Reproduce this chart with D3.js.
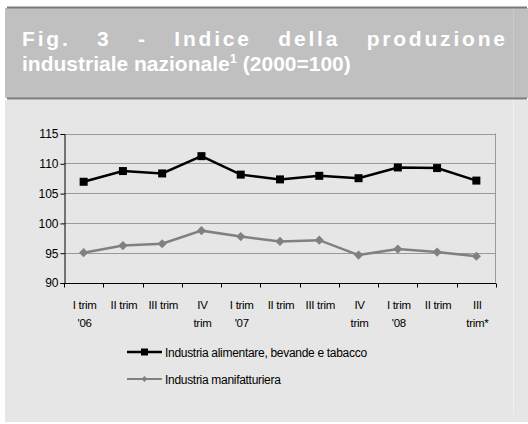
<!DOCTYPE html>
<html>
<head>
<meta charset="utf-8">
<script src="https://cdn.jsdelivr.net/npm/d3@7"></script>
<style>
  body { margin: 0; background: #fff; }
  svg { display: block; font-family: "Liberation Sans", Arial, sans-serif; }
</style>
</head>
<body>
<svg id="chart" width="528" height="424"></svg>
<script>
// data
const categories = [
    ["I trim", "'06"], ["II trim"], ["III trim"], ["IV", "trim"],
    ["I trim", "'07"], ["II trim"], ["III trim"], ["IV", "trim"],
    ["I trim", "'08"], ["II trim"], ["III", "trim*"]
];
const alimentare = [106.9, 108.7, 108.3, 111.2, 108.1, 107.3, 107.9, 107.5, 109.3, 109.2, 107.1];
const manifatturiera = [95.0, 96.2, 96.5, 98.7, 97.7, 96.9, 97.1, 94.6, 95.6, 95.1, 94.4];
const yTicks = [90, 95, 100, 105, 110, 115];
const seriesNames = ["Industria alimentare, bevande e tabacco", "Industria manifatturiera"];

const svg = d3.select("#chart");

// frame: title band + light panel
svg.append("rect").attr("x", 5).attr("y", 8).attr("width", 523).attr("height", 90).attr("fill", "#c0c0c0");
svg.append("rect").attr("x", 5).attr("y", 100).attr("width", 523).attr("height", 322).attr("fill", "#e6e6e6");
svg.append("line").attr("x1", 513.5).attr("x2", 513.5).attr("y1", 8).attr("y2", 98).attr("stroke", "#cacaca");
svg.append("line").attr("x1", 513.5).attr("x2", 513.5).attr("y1", 100).attr("y2", 415).attr("stroke", "#f0f0f0");
svg.append("rect").attr("x", 7).attr("y", 6.5).attr("width", 520).attr("height", 2).attr("fill", "#7a7a7a");
svg.append("rect").attr("x", 7).attr("y", 97.5).attr("width", 520).attr("height", 2).attr("fill", "#7a7a7a");

// title, first line justified with letter spacing
const t1 = ["Fig.", "3", "-", "Indice", "della", "produzione"];
const tg = svg.append("g").attr("fill", "#fff").attr("font-weight", "bold").attr("font-size", 21);
const words = tg.selectAll("text.w").data(t1).enter().append("text")
    .attr("class", "w").attr("y", 46).attr("letter-spacing", 2.8).text(d => d);
const widths = [];
words.each(function() { widths.push(this.getComputedTextLength() - 2.8); });
const gap = (505 - 22 - d3.sum(widths)) / (t1.length - 1);
let cx = 22;
words.attr("x", (d, i) => { const v = cx; cx += widths[i] + gap; return v; });
const t2 = tg.append("text").attr("x", 22).attr("y", 71);
t2.append("tspan").text("industriale nazionale");
t2.append("tspan").attr("font-size", 13).attr("dy", -8).text("1");
t2.append("tspan").attr("dy", 8).text(" (2000=100)");

// plot
const margin = { left: 64, top: 133.5, right: 496, bottom: 282.5 };
const x = d3.scaleBand().domain(d3.range(categories.length)).range([margin.left, margin.right]);
const y = d3.scaleLinear().domain([90, 115]).range([margin.bottom, margin.top]);

svg.append("g").selectAll("line").data(yTicks.slice(1)).enter().append("line")
    .attr("x1", margin.left).attr("x2", margin.right)
    .attr("y1", d => Math.round(y(d)) + 0.5).attr("y2", d => Math.round(y(d)) + 0.5)
    .attr("stroke", "#999");
svg.append("line").attr("x1", margin.right - 0.5).attr("x2", margin.right - 0.5)
    .attr("y1", margin.top).attr("y2", margin.bottom).attr("stroke", "#999");

const yAxis = svg.append("g").attr("transform", "translate(" + (margin.left + 0.5) + ",0.5)")
    .call(d3.axisLeft(y).tickValues(yTicks).tickSize(4).tickPadding(2));
yAxis.select(".domain").attr("stroke", "#000");
yAxis.selectAll("text").attr("font-size", 12).attr("fill", "#000").attr("font-family", "Liberation Sans, Arial");

const xAxis = svg.append("g").attr("transform", "translate(0," + (Math.round(margin.bottom) + 0.5) + ")");
xAxis.append("line").attr("x1", margin.left).attr("x2", margin.right).attr("stroke", "#000");
xAxis.selectAll("line.tk").data(d3.range(categories.length + 1)).enter().append("line")
    .attr("class", "tk")
    .attr("x1", i => Math.round(margin.left + i * x.step()) + 0.5)
    .attr("x2", i => Math.round(margin.left + i * x.step()) + 0.5)
    .attr("y1", 0).attr("y2", 4).attr("stroke", "#000");
const xl = xAxis.selectAll("text").data(categories).enter().append("text")
    .attr("text-anchor", "middle").attr("font-size", 11.5).attr("letter-spacing", -0.3)
    .attr("fill", "#000")
    .attr("x", (d, i) => x(i) + x.bandwidth() / 2 + 1);
xl.selectAll("tspan").data(d => d).enter().append("tspan")
    .attr("x", function() { return d3.select(this.parentNode).attr("x"); })
    .attr("y", (d, j) => 25 + j * 18).text(d => d);

// lines
const line = d3.line().x((d, i) => x(i) + x.bandwidth() / 2).y(d => y(d));
svg.append("path").datum(manifatturiera).attr("d", line)
    .attr("fill", "none").attr("stroke", "#808080").attr("stroke-width", 2.5);
svg.append("g").selectAll("path").data(manifatturiera).enter().append("path")
    .attr("d", d3.symbol(d3.symbolSquare, 42))
    .attr("transform", (d, i) => "translate(" + (x(i) + x.bandwidth() / 2) + "," + y(d) + ") rotate(45)")
    .attr("fill", "#808080");
svg.append("path").datum(alimentare).attr("d", line)
    .attr("fill", "none").attr("stroke", "#000").attr("stroke-width", 2.5);
svg.append("g").selectAll("rect").data(alimentare).enter().append("rect")
    .attr("x", (d, i) => x(i) + x.bandwidth() / 2 - 4).attr("y", d => y(d) - 4)
    .attr("width", 8).attr("height", 8).attr("fill", "#000");

// legend
const legend = svg.append("g");
const lg = legend.selectAll("g").data(seriesNames).enter().append("g")
    .attr("transform", (d, i) => "translate(127," + (352 + i * 27) + ")");
lg.append("line").attr("x1", 0).attr("x2", 35)
    .attr("stroke", (d, i) => i ? "#808080" : "#000").attr("stroke-width", (d, i) => i ? 2 : 2.5);
lg.filter((d, i) => i === 0).append("rect").attr("x", 14).attr("y", -3.5).attr("width", 7).attr("height", 7).attr("fill", "#000");
lg.filter((d, i) => i === 1).append("path").attr("d", d3.symbol(d3.symbolSquare, 18))
    .attr("transform", "translate(17.5,0) rotate(45)").attr("fill", "#808080");
lg.append("text").attr("x", 38).attr("y", 4.5).attr("font-size", 12).attr("letter-spacing", -0.3)
    .attr("fill", "#000").text(d => d);
</script>
</body>
</html>
